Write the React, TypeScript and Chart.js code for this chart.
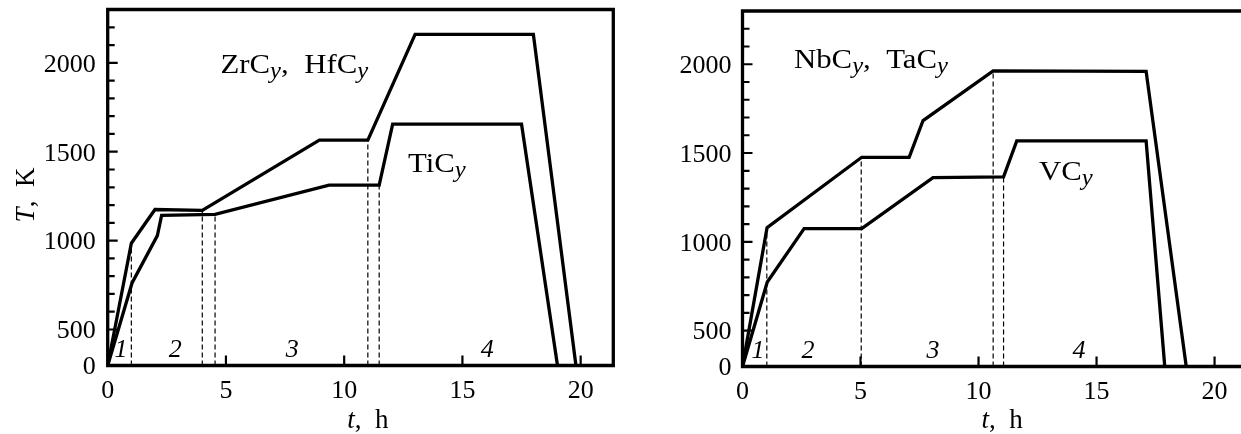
import React, { useEffect, useRef } from 'react';
import { Chart, registerables, LinearScale } from 'chart.js';

// ---------------- data ----------------
const X_TICKS = [0, 5, 10, 15, 20];
const Y_LABELLED = [0, 500, 1000, 1500, 2000];
const Y_TICKS = [0, 500, 600, 700, 800, 900, 1000, 1100, 1200, 1300, 1400, 1500, 1600, 1700, 1800, 1900, 2000, 2100, 2200];

// left panel
const ZRC_HFC_T = [0, 1, 2, 4, 8.95, 11, 13, 18, 19.8];
const ZRC_HFC_K = [0, 985, 1175, 1170, 1565, 1565, 2160, 2160, 0];
const TIC_T = [0, 1.03, 2.1, 2.28, 4.54, 9.36, 11.48, 12.05, 17.5, 19.02];
const TIC_K = [0, 762, 1028, 1142, 1148, 1312, 1312, 1655, 1655, 0];
const LEFT_STAGE_T = [1, 4, 4.54, 11, 11.48];
const LEFT_STAGE_K = [985, 1170, 1148, 1565, 1312];

// right panel
const NBC_TAC_T = [0, 1.04, 5.05, 7.06, 7.65, 10.62, 17.1, 18.8];
const NBC_TAC_K = [0, 1079, 1476, 1476, 1683, 1963, 1960, 0];
const VC_T = [0, 1.05, 2.61, 5.05, 8.07, 11.06, 11.62, 17.1, 17.89];
const VC_K = [0, 773, 1074, 1074, 1361, 1366, 1568, 1568, 0];
const RIGHT_STAGE_T = [1.03, 5.03, 10.62, 11.06];
const RIGHT_STAGE_K = [1079, 1476, 1963, 1366];

// stage numbers
const STAGE_NAMES = ['1', '2', '3', '4'];
const LEFT_STAGE_LABEL_T = [0.56, 2.86, 7.8, 16.05];
const RIGHT_STAGE_LABEL_T = [0.66, 2.78, 8.07, 14.26];
const STAGE_LABEL_K = 120;

// curve captions: [text, isSubscript]
const LEFT_CAPTIONS = [
  { t: 4.77, k: 1943, parts: [['ZrC', false], ['y', true], [',  HfC', false], ['y', true]] },
  { t: 12.7, k: 1386, parts: [['TiC', false], ['y', true]] },
];
const RIGHT_CAPTIONS = [
  { t: 2.18, k: 1977, parts: [['NbC', false], ['y', true], [',  TaC', false], ['y', true]] },
  { t: 12.56, k: 1348, parts: [['VC', false], ['y', true]] },
];

const X_TITLE = [['t', true], [',  h', false]];
const Y_TITLE = [['T', true], [',  K', false]];

// ---------------- broken (squeezed below 500) linear scale ----------------
const BREAK_VALUE = 500;
const SQUEEZE = 0.405;

class BrokenLinearScale extends LinearScale {
  static id = 'brokenLinear';
  static defaults = {};
  warp(v: number) {
    return v >= BREAK_VALUE ? v : BREAK_VALUE - (BREAK_VALUE - v) * SQUEEZE;
  }
  unwarp(u: number) {
    return u >= BREAK_VALUE ? u : BREAK_VALUE - (BREAK_VALUE - u) / SQUEEZE;
  }
  getPixelForValue(value: number) {
    const a = this.warp(this.min);
    const b = this.warp(this.max);
    return this.bottom - ((this.warp(value) - a) / (b - a)) * (this.bottom - this.top);
  }
  getValueForPixel(pixel: number) {
    const a = this.warp(this.min);
    const b = this.warp(this.max);
    return this.unwarp(a + ((this.bottom - pixel) / (this.bottom - this.top)) * (b - a));
  }
}

Chart.register(...registerables, BrokenLinearScale);

const SERIF = '"Liberation Serif", "Times New Roman", serif';

function pts(ts: number[], ks: number[]) {
  return ts.map((t, i) => ({ x: t, y: ks[i] }));
}

function richWidth(ctx: CanvasRenderingContext2D, parts: any[], size: number) {
  let w = 0;
  for (const [text, it] of parts) {
    ctx.font = `${it ? 'italic ' : ''}${size}px ${SERIF}`;
    w += ctx.measureText(text).width;
  }
  return w;
}

// parts with flag = subscript (italic, smaller, lowered)
function drawCaption(ctx: CanvasRenderingContext2D, x: number, y: number, parts: any[], size: number, stretch: number) {
  ctx.save();
  ctx.translate(x, y);
  ctx.scale(stretch, 1);
  ctx.textAlign = 'left';
  ctx.textBaseline = 'alphabetic';
  let cx = 0;
  for (const [text, sub] of parts) {
    const s = sub ? size * 0.8 : size;
    ctx.font = `${sub ? 'italic ' : ''}${s}px ${SERIF}`;
    ctx.fillText(text, cx, sub ? size * 0.17 : 0);
    cx += ctx.measureText(text).width;
  }
  ctx.restore();
}

// parts with flag = italic (same size), centered at origin
function drawTitle(ctx: CanvasRenderingContext2D, parts: any[], size: number) {
  const w = richWidth(ctx, parts, size);
  let cx = -w / 2;
  ctx.textAlign = 'left';
  ctx.textBaseline = 'alphabetic';
  for (const [text, it] of parts) {
    ctx.font = `${it ? 'italic ' : ''}${size}px ${SERIF}`;
    ctx.fillText(text, cx, 0);
    cx += ctx.measureText(text).width;
  }
}

type Panel = {
  upperT: number[]; upperK: number[]; lowerT: number[]; lowerK: number[];
  stageT: number[]; stageK: number[]; stageLabelT: number[]; captions: any[];
  yAxisWidth: number; top: number; xAxisHeight: number; padRight: number; xMax: number; yPad: number;
  rightBorder: boolean; yTitle: boolean;
};

const LEFT_PANEL: Panel = {
  upperT: ZRC_HFC_T, upperK: ZRC_HFC_K, lowerT: TIC_T, lowerK: TIC_K,
  stageT: LEFT_STAGE_T, stageK: LEFT_STAGE_K, stageLabelT: LEFT_STAGE_LABEL_T, captions: LEFT_CAPTIONS,
  yAxisWidth: 107.7, top: 9.5, xAxisHeight: 68.5, padRight: 6.7, xMax: 21.38, yPad: 12,
  rightBorder: true, yTitle: true,
};

const RIGHT_PANEL: Panel = {
  upperT: NBC_TAC_T, upperK: NBC_TAC_K, lowerT: VC_T, lowerK: VC_K,
  stageT: RIGHT_STAGE_T, stageK: RIGHT_STAGE_K, stageLabelT: RIGHT_STAGE_LABEL_T, captions: RIGHT_CAPTIONS,
  yAxisWidth: 122.5, top: 11, xAxisHeight: 67.5, padRight: 0, xMax: 21.12, yPad: 11,
  rightBorder: false, yTitle: false,
};

function buildConfig(p: Panel): any {
  const curve = (data: any[]) => ({
    data,
    borderColor: '#000',
    borderWidth: 3.3,
    pointRadius: 0,
    tension: 0,
    fill: false,
    borderJoinStyle: 'miter',
    borderCapStyle: 'butt',
  });
  const dashes = p.stageT.map((t, i) => ({
    data: [{ x: t, y: 0 }, { x: t, y: p.stageK[i] }],
    borderColor: '#000',
    borderWidth: 1.2,
    borderDash: [5, 3],
    pointRadius: 0,
    fill: false,
  }));

  const decor = {
    id: 'decor',
    afterDraw(chart: any) {
      const { ctx, chartArea: ca } = chart;
      const xs = chart.scales.x;
      const ys = chart.scales.y;
      ctx.save();
      ctx.strokeStyle = '#000';
      ctx.fillStyle = '#000';

      // frame
      ctx.lineWidth = 3.3;
      ctx.lineCap = 'square';
      ctx.lineJoin = 'miter';
      ctx.beginPath();
      if (p.rightBorder) {
        ctx.rect(ca.left, ca.top, ca.right - ca.left, ca.bottom - ca.top);
      } else {
        ctx.moveTo(ca.right + 3, ca.top);
        ctx.lineTo(ca.left, ca.top);
        ctx.lineTo(ca.left, ca.bottom);
        ctx.lineTo(ca.right + 3, ca.bottom);
      }
      ctx.stroke();

      // inward tick marks
      ctx.lineWidth = 2.2;
      ctx.lineCap = 'butt';
      ctx.beginPath();
      for (const v of Y_TICKS) {
        if (v === 0) continue;
        const py = ys.getPixelForValue(v);
        const len = Y_LABELLED.includes(v) ? 10 : 7;
        ctx.moveTo(ca.left, py);
        ctx.lineTo(ca.left + len, py);
      }
      for (const t of X_TICKS) {
        if (t === 0) continue;
        const px = xs.getPixelForValue(t);
        ctx.moveTo(px, ca.bottom);
        ctx.lineTo(px, ca.bottom - 10);
      }
      ctx.stroke();

      // captions
      for (const c of p.captions) {
        drawCaption(ctx, xs.getPixelForValue(c.t), ys.getPixelForValue(c.k), c.parts, 28, 1.1);
      }

      // stage numbers
      ctx.font = `italic 26px ${SERIF}`;
      ctx.textAlign = 'center';
      ctx.textBaseline = 'alphabetic';
      p.stageLabelT.forEach((t, i) => {
        ctx.fillText(STAGE_NAMES[i], xs.getPixelForValue(t), ys.getPixelForValue(STAGE_LABEL_K));
      });

      // x title
      ctx.save();
      ctx.translate(xs.getPixelForValue(11), 428);
      drawTitle(ctx, X_TITLE, 27);
      ctx.restore();

      // y title
      if (p.yTitle) {
        ctx.save();
        ctx.translate(34, 195);
        ctx.rotate(-Math.PI / 2);
        drawTitle(ctx, Y_TITLE, 27);
        ctx.restore();
      }
      ctx.restore();
    },
  };

  const tickFont = { family: SERIF, size: 26 };

  return {
    type: 'line',
    data: {
      datasets: [curve(pts(p.upperT, p.upperK)), curve(pts(p.lowerT, p.lowerK)), ...dashes],
    },
    options: {
      animation: false,
      responsive: false,
      devicePixelRatio: 1,
      layout: { padding: { left: 0, top: p.top, right: p.padRight, bottom: 0 } },
      plugins: { legend: { display: false }, tooltip: { enabled: false } },
      scales: {
        x: {
          type: 'linear',
          min: 0,
          max: p.xMax,
          grid: { display: false, drawTicks: false },
          border: { display: false },
          afterBuildTicks: (s: any) => {
            s.ticks = X_TICKS.map((v) => ({ value: v }));
          },
          afterFit: (s: any) => {
            s.height = p.xAxisHeight;
            s.paddingLeft = 0;
            s.paddingRight = 0;
            s.paddingTop = 0;
            s.paddingBottom = 0;
          },
          ticks: {
            color: '#000',
            font: tickFont,
            padding: 10,
            autoSkip: false,
            maxRotation: 0,
            callback: (v: any) => String(v),
          },
        },
        y: {
          type: 'brokenLinear',
          min: 0,
          max: 2300,
          grid: { display: false, drawTicks: false },
          border: { display: false },
          afterBuildTicks: (s: any) => {
            s.ticks = Y_TICKS.map((v) => ({ value: v }));
          },
          afterFit: (s: any) => {
            s.width = p.yAxisWidth;
            s.paddingLeft = 0;
            s.paddingRight = 0;
            s.paddingTop = 0;
            s.paddingBottom = 0;
          },
          ticks: {
            color: '#000',
            font: tickFont,
            padding: p.yPad,
            autoSkip: false,
            labelOffset: 2,
            callback: (v: any) => (Y_LABELLED.includes(v) ? String(v) : ''),
          },
        },
      },
    },
    plugins: [decor],
  };
}

export default function App() {
  const leftRef = useRef<HTMLCanvasElement>(null);
  const rightRef = useRef<HTMLCanvasElement>(null);
  useEffect(() => {
    const a = new Chart(leftRef.current as HTMLCanvasElement, buildConfig(LEFT_PANEL));
    const b = new Chart(rightRef.current as HTMLCanvasElement, buildConfig(RIGHT_PANEL));
    return () => {
      a.destroy();
      b.destroy();
    };
  }, []);
  return (
    <div style={{ position: 'absolute', left: 0, top: 0, width: 1241, height: 434, background: '#fff', overflow: 'hidden' }}>
      <canvas ref={leftRef} width={620} height={434} style={{ position: 'absolute', left: 0, top: 0 }} />
      <canvas ref={rightRef} width={621} height={434} style={{ position: 'absolute', left: 620, top: 0 }} />
    </div>
  );
}
